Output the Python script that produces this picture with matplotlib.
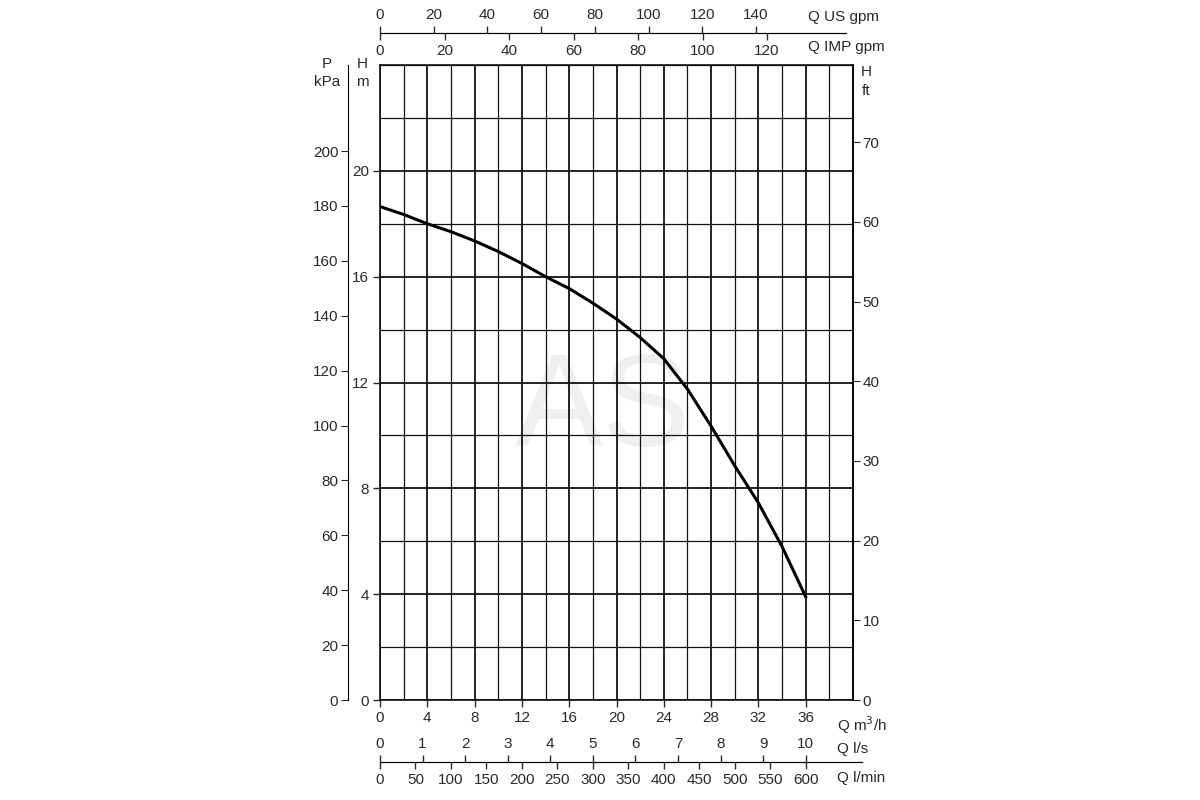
import matplotlib; matplotlib.use("Agg")
import matplotlib.pyplot as plt

plt.rcParams['font.family'] = ['Liberation Sans Narrow', 'Liberation Sans', 'DejaVu Sans']
TXT = "#2a2a2a"
FS = 11

# pump curve (Q in m3/h, H in m)
q_m3h = [0, 2, 4, 6, 8, 10, 12, 14, 16, 18, 20, 22, 24, 26, 28, 30, 32, 34, 36]
h_m = [18.65, 18.35, 18.0, 17.7, 17.35, 16.95, 16.5, 16.0, 15.55, 15.0, 14.4,
       13.7, 12.9, 11.75, 10.35, 8.85, 7.45, 5.8, 3.9]

# scale ticks
q_ticks = [0, 4, 8, 12, 16, 20, 24, 28, 32, 36]
hm_ticks = [0, 4, 8, 12, 16, 20]
kpa_ticks = [0, 20, 40, 60, 80, 100, 120, 140, 160, 180, 200]
ft_ticks = [0, 10, 20, 30, 40, 50, 60, 70]
usgpm_ticks = [0, 20, 40, 60, 80, 100, 120, 140]
impgpm_ticks = [0, 20, 40, 60, 80, 100, 120]
ls_ticks = [0, 1, 2, 3, 4, 5, 6, 7, 8, 9, 10]
lmin_ticks = [0, 50, 100, 150, 200, 250, 300, 350, 400, 450, 500, 550, 600]

# unit factors (as drawn on the sheet)
KPA_PER_M = 9.64
FT_PER_M = 3.32
USGPM = 4.403
IMPGPM = 3.666
LS = 1 / 3.6
LMIN = 1000 / 60

QMAX, HMAX = 40, 24
W_PX, H_PX = 1200, 800
def fx(px): return px / W_PX
def fy(py): return 1 - py / H_PX

fig = plt.figure(figsize=(12, 8), dpi=100)
L, R, T, B = 380, 853, 65, 700
ax = fig.add_axes([fx(L), fy(B), fx(R - L), (B - T) / H_PX])
ax.set_xlim(0, QMAX); ax.set_ylim(0, HMAX)
ax.set_xticks(q_ticks); ax.set_xticks(range(0, QMAX + 1, 2), minor=True)
ax.set_yticks(hm_ticks); ax.set_yticks(range(0, HMAX + 1, 2), minor=True)
ax.grid(which='major', color='#111', lw=1.3)
ax.grid(which='minor', color='#111', lw=0.9)
ax.tick_params(which='minor', length=0)
ax.tick_params(which='major', length=5, width=1, labelsize=FS, colors=TXT, pad=3)
for s in ax.spines.values():
    s.set_linewidth(1.2); s.set_color('#111')
ax.plot(q_m3h, h_m, color='black', lw=2.2, zorder=5)
ax.text(18.8, 10.9, "AS", fontsize=95, color='#efefef', ha='center', va='center', zorder=0,
        family='Liberation Sans')

# right: H ft
axf = ax.twinx()
axf.set_ylim(0, HMAX * FT_PER_M); axf.set_yticks(ft_ticks)
axf.tick_params(length=5, labelsize=FS, colors=TXT, pad=2)
for k in ['left', 'top', 'bottom']:
    axf.spines[k].set_visible(False)
axf.spines['right'].set_linewidth(1.2)

# left: P kPa
axp = ax.twinx()
axp.yaxis.set_ticks_position('left'); axp.yaxis.set_label_position('left')
axp.spines['left'].set_position(('outward', 23)); axp.spines['left'].set_visible(True)
for k in ['right', 'top', 'bottom']:
    axp.spines[k].set_visible(False)
axp.set_ylim(0, HMAX * KPA_PER_M); axp.set_yticks(kpa_ticks)
axp.tick_params(length=5, labelsize=FS, colors=TXT, pad=2)

def aux(ypx, factor, ticks, side, end_q):
    a = fig.add_axes([fx(L), fy(ypx), fx(R - L), 1e-5])
    a.patch.set_visible(False)
    a.set_xlim(0, QMAX * factor); a.set_yticks([])
    for s in a.spines.values():
        s.set_visible(False)
    a.spines[side].set_visible(True)
    a.spines[side].set_bounds(0, end_q * factor)
    a.xaxis.set_ticks_position(side); a.xaxis.set_label_position(side)
    a.set_xticks(ticks)
    a.tick_params(axis='x', length=5, width=1, labelsize=FS, colors=TXT, pad=3)
    return a

aux(33, USGPM, usgpm_ticks, 'top', 39.4)
aux(33, IMPGPM, impgpm_ticks, 'bottom', 39.4)
aux(762, LS, ls_ticks, 'top', 40.8)
aux(762, LMIN, lmin_ticks, 'bottom', 40.8)

kw = dict(fontsize=FS, color=TXT, va='center')
fig.text(fx(808), fy(17), "Q US gpm", ha='left', **kw)
fig.text(fx(808), fy(47), "Q IMP gpm", ha='left', **kw)
fig.text(fx(837), fy(725), "Q m$^3$/h", ha='left', **kw)
fig.text(fx(837), fy(749), "Q l/s", ha='left', **kw)
fig.text(fx(837), fy(778), "Q l/min", ha='left', **kw)
fig.text(fx(327), fy(64), "P", ha='center', **kw)
fig.text(fx(327), fy(82), "kPa", ha='center', **kw)
fig.text(fx(362), fy(64), "H", ha='center', **kw)
fig.text(fx(362), fy(82), "m", ha='center', **kw)
fig.text(fx(866), fy(72), "H", ha='center', **kw)
fig.text(fx(866), fy(91), "ft", ha='center', **kw)

fig.savefig("out.png", dpi=100)
